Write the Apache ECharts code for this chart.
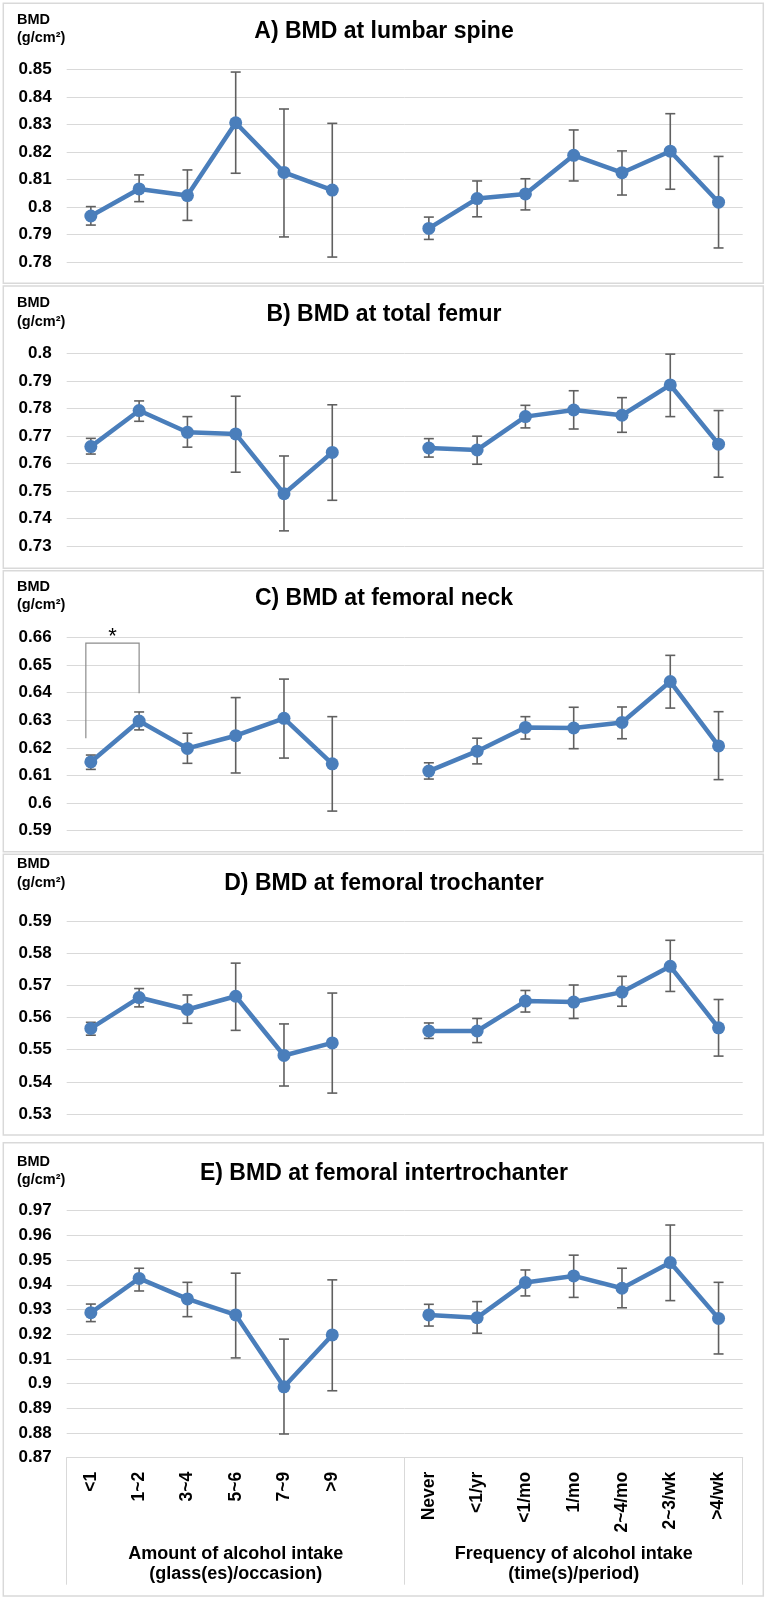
<!DOCTYPE html>
<html>
<head>
<meta charset="utf-8">
<script src="https://cdn.jsdelivr.net/npm/echarts@6/dist/echarts.min.js"></script>
<style>
html,body{margin:0;padding:0;background:#fff;}
#chart{width:768px;height:1599px;}
</style>
</head>
<body>
<div id="chart"></div>
<script>
// ---------- DATA ----------
const categories = ['<1','1~2','3~4','5~6','7~9','>9','','Never','<1/yr','<1/mo','1/mo','2~4/mo','2~3/wk','>4/wk'];
const groupLabels = ['Amount of alcohol intake\n(glass(es)/occasion)', 'Frequency of alcohol intake\n(time(s)/period)'];
const panelTitles = ['A) BMD at lumbar spine','B) BMD at total femur','C) BMD at femoral neck','D) BMD at femoral trochanter','E) BMD at femoral intertrochanter'];
const yUnitLine1 = 'BMD';
const yUnitLine2 = '(g/cm\u00B2)';
const yMin = [0.78, 0.73, 0.59, 0.53, 0.87];
const yMax = [0.85, 0.80, 0.66, 0.59, 0.97];
const yStep = 0.01;

const meanA = [0.7968,0.8066,0.8042,0.8306,0.8126,0.8062,null,0.7923,0.8031,0.8048,0.8188,0.8125,0.8203,0.8018];
const lowA  = [0.7935,0.8020,0.7952,0.8123,0.7892,0.7819,null,0.7883,0.7965,0.7990,0.8095,0.8044,0.8065,0.7852];
const highA = [0.8002,0.8117,0.8135,0.8490,0.8356,0.8304,null,0.7964,0.8095,0.8103,0.8280,0.8204,0.8339,0.8184];

const meanB = [0.7661,0.7792,0.7713,0.7707,0.7490,0.7640,null,0.7656,0.7649,0.7770,0.7794,0.7775,0.7885,0.7670];
const lowB  = [0.7634,0.7753,0.7659,0.7568,0.7355,0.7466,null,0.7623,0.7597,0.7729,0.7725,0.7713,0.7770,0.7550];
const highB = [0.7691,0.7827,0.7770,0.7844,0.7627,0.7813,null,0.7690,0.7699,0.7811,0.7864,0.7839,0.7997,0.7792];

const meanC = [0.6149,0.6297,0.6198,0.6244,0.6307,0.6142,null,0.6116,0.6188,0.6274,0.6272,0.6292,0.6440,0.6207];
const lowC  = [0.6122,0.6265,0.6144,0.6109,0.6163,0.5971,null,0.6087,0.6142,0.6232,0.6197,0.6233,0.6344,0.6085];
const highC = [0.6174,0.6330,0.6253,0.6382,0.6449,0.6313,null,0.6146,0.6235,0.6313,0.6347,0.6348,0.6535,0.6331];

const meanD = [0.5566,0.5662,0.5625,0.5666,0.5482,0.5521,null,0.5558,0.5558,0.5651,0.5648,0.5679,0.5759,0.5568];
const lowD  = [0.5545,0.5633,0.5582,0.5560,0.5387,0.5365,null,0.5535,0.5522,0.5617,0.5597,0.5635,0.5681,0.5480];
const highD = [0.5585,0.5690,0.5670,0.5769,0.5580,0.5676,null,0.5583,0.5597,0.5684,0.5701,0.5728,0.5840,0.5656];

const meanE = [0.9287,0.9426,0.9343,0.9278,0.8987,0.9197,null,0.9278,0.9267,0.9409,0.9436,0.9386,0.9490,0.9264];
const lowE  = [0.9251,0.9375,0.9271,0.9104,0.8796,0.8971,null,0.9233,0.9204,0.9355,0.9349,0.9307,0.9336,0.9120];
const highE = [0.9322,0.9467,0.9410,0.9447,0.9180,0.9420,null,0.9321,0.9332,0.9460,0.9520,0.9467,0.9642,0.9410];

// significance bracket in panel C: [fromIndex, toIndex, leftLegEnd, top, rightLegEnd]
const sigBracketC = [0, 1, 0.6235, 0.6579, 0.6398];
const sigMark = '*';

// ---------- LAYOUT ----------
const means = [meanA, meanB, meanC, meanD, meanE];
const lows = [lowA, lowB, lowC, lowD, lowE];
const highs = [highA, highB, highC, highD, highE];

const gridTop = [69.3, 353.3, 637.4, 921, 1210.7];
const gridHeight = [193, 192.7, 193.3, 193, 247];
const gridLeft = 66.7, gridWidth = 676;
const frames = [[3.3,3.3,760,280],[3.3,286,760,282.3],[3.3,570.7,760,281],[3.3,854.3,760,280.7],[3.3,1142.7,760,453.3]];
const titleY = [32, 314.5, 599, 883.5, 1174];
const unitY = [19.5, 303.3, 586.7, 864, 1161.7];

const FONT = "'Liberation Sans', Arial, sans-serif";
const BLUE = '#4a7ebb';
const ERR = '#606060';
const GRIDC = '#d9d9d9';

const chart = echarts.init(document.getElementById('chart'), null, {renderer:'canvas', width:768, height:1599});

const grids = [], xAxes = [], yAxes = [], series = [], graphics = [];

for (let p = 0; p < 5; p++) {
  grids.push({left: gridLeft, top: gridTop[p], width: gridWidth, height: gridHeight[p], containLabel: false});
  const last = p === 4;
  xAxes.push({
    type: 'category', gridIndex: p, data: categories, boundaryGap: true,
    axisLine: {show: last, lineStyle: {color: GRIDC, width: 1}},
    axisTick: last ? {show: true, length: 127, lineStyle: {color: GRIDC, width: 1},
      interval: function (i) { return i === 0 || i === 7; }} : {show: false},
    axisLabel: last ? {show: true, interval: 0, rotate: 90, margin: 14, fontSize: 17.5, fontWeight: 'bold',
      color: '#000', fontFamily: FONT} : {show: false},
    splitLine: {show: false}
  });
  yAxes.push({
    type: 'value', gridIndex: p, min: yMin[p], max: yMax[p], interval: yStep,
    axisLine: {show: false}, axisTick: {show: false},
    axisLabel: {margin: 15, fontSize: 17, fontWeight: 'bold', color: '#000', fontFamily: FONT,
      formatter: function (v) { return String(+v.toFixed(2)); }},
    splitLine: {show: true, lineStyle: {color: GRIDC, width: 1}}
  });

  const errData = [];
  for (let i = 0; i < categories.length; i++) {
    if (means[p][i] != null) errData.push([i, lows[p][i], highs[p][i]]);
  }
  series.push({
    type: 'custom', xAxisIndex: p, yAxisIndex: p, z: 2, silent: true,
    encode: {x: 0, y: [1, 2]},
    data: errData,
    renderItem: function (params, api) {
      const lo = api.coord([api.value(0), api.value(1)]);
      const hi = api.coord([api.value(0), api.value(2)]);
      const w = 5;
      const st = {stroke: ERR, lineWidth: 1.6};
      return {type: 'group', children: [
        {type: 'line', shape: {x1: lo[0], y1: lo[1], x2: hi[0], y2: hi[1]}, style: st},
        {type: 'line', shape: {x1: lo[0]-w, y1: lo[1], x2: lo[0]+w, y2: lo[1]}, style: st},
        {type: 'line', shape: {x1: hi[0]-w, y1: hi[1], x2: hi[0]+w, y2: hi[1]}, style: st}
      ]};
    }
  });
  series.push({
    type: 'line', xAxisIndex: p, yAxisIndex: p, z: 3, data: means[p], connectNulls: false,
    symbol: 'circle', symbolSize: 13, showSymbol: true,
    lineStyle: {color: BLUE, width: 4.5}, itemStyle: {color: BLUE}, silent: true, animation: false
  });

  graphics.push({type: 'rect', shape: {x: frames[p][0], y: frames[p][1], width: frames[p][2], height: frames[p][3]},
    style: {fill: null, stroke: GRIDC, lineWidth: 1.5}, silent: true});
  graphics.push({type: 'text', x: 384, y: titleY[p], style: {text: panelTitles[p], fontSize: 23, fontWeight: 'bold',
    fontFamily: FONT, fill: '#000', textAlign: 'center', textVerticalAlign: 'middle'}});
  graphics.push({type: 'text', x: 17, y: unitY[p], style: {text: yUnitLine1, fontSize: 14.5, fontWeight: 'bold',
    fontFamily: FONT, fill: '#000', textAlign: 'left', textVerticalAlign: 'middle'}});
  graphics.push({type: 'text', x: 17, y: unitY[p] + 18.5, style: {text: yUnitLine2, fontSize: 14.5, fontWeight: 'bold',
    fontFamily: FONT, fill: '#000', textAlign: 'left', textVerticalAlign: 'middle'}});
}

// group-label axis under panel E
xAxes.push({
  type: 'category', gridIndex: 4, data: groupLabels, position: 'bottom', boundaryGap: true,
  axisLine: {show: false}, axisTick: {show: false}, splitLine: {show: false},
  axisLabel: {interval: 0, margin: 86, fontSize: 18, fontWeight: 'bold', color: '#000', fontFamily: FONT,
    lineHeight: 20, align: 'center'}
});

// significance bracket (panel C)
series.push({
  type: 'custom', xAxisIndex: 2, yAxisIndex: 2, z: 4, silent: true,
  encode: {x: [0, 1], y: [2, 3, 4]},
  data: [sigBracketC],
  renderItem: function (params, api) {
    const a = api.coord([api.value(0), api.value(2)]);
    const t1 = api.coord([api.value(0), api.value(3)]);
    const t2 = api.coord([api.value(1), api.value(3)]);
    const b = api.coord([api.value(1), api.value(4)]);
    const xl = a[0] - 5;
    const st = {stroke: '#8c8c8c', lineWidth: 1.2, fill: null};
    return {type: 'group', children: [
      {type: 'polyline', shape: {points: [[xl, a[1]], [xl, t1[1]], [t2[0], t2[1]], [b[0], b[1]]]}, style: st},
      {type: 'text', style: {text: sigMark, x: (xl + t2[0]) / 2, y: t1[1] - 6, textAlign: 'center',
        textVerticalAlign: 'middle', fontSize: 22, fontFamily: FONT, fill: '#000'}}
    ]};
  }
});

chart.setOption({
  backgroundColor: '#fff',
  animation: false,
  grid: grids,
  xAxis: xAxes,
  yAxis: yAxes,
  series: series,
  graphic: graphics
});
</script>
</body>
</html>
